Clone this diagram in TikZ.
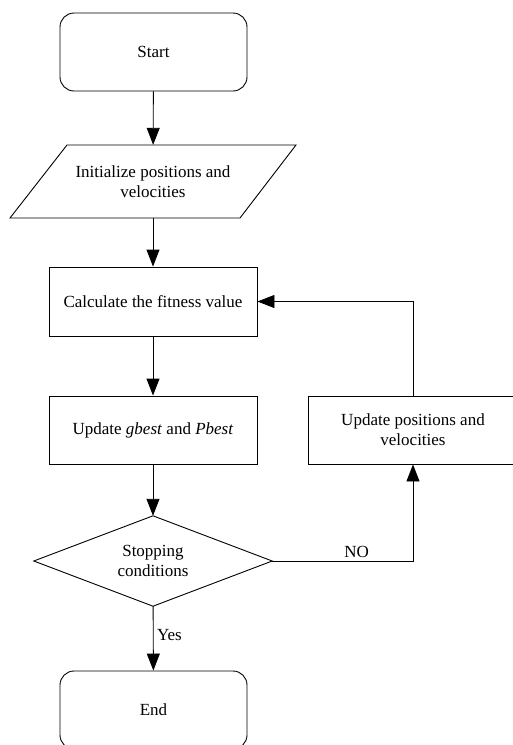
\documentclass[tikz,border=0pt]{standalone}
\usepackage{fontspec}
\setmainfont{Liberation Serif}
\usetikzlibrary{arrows.meta}

\begin{document}
\begin{tikzpicture}[x=1pt,y=1pt,yscale=-1,xscale=1,
  every node/.style={font=\fontsize{17}{20}\selectfont, align=center},
  term/.style={draw, line width=0.9pt, rounded corners=14pt, minimum width=187pt, minimum height=78pt},
  procbox/.style={draw, line width=0.9pt, minimum height=68pt, inner sep=0pt},
  holder/.style={minimum height=#1, inner sep=0pt},
  flow/.style={line width=0.9pt, -{Triangle[length=17pt,width=13pt]}}]
\path[use as bounding box] (0,0) rectangle (513,745);
\clip (0,0) rectangle (513,745);

%Shape: Rounded Rect
\node[term] (start) at (153.5,52) {Start};
%Shape: Parallelogram
\node[holder=73pt, minimum width=230pt] (init) at (153,181.5) {Initialize positions and\\velocities};
\draw[line width=0.9pt] (67,145) -- (296,145) -- (240,218) -- (10,218) -- cycle ;
%Shape: Rectangle
\node[procbox, minimum width=208pt, minimum height=69pt] (calc) at (153,301.5) {Calculate the fitness value};
%Shape: Rectangle
\node[procbox, minimum width=208pt] (upd) at (153,430) {Update \textit{gbest} and \textit{Pbest}};
%Shape: Diamond
\node[holder=90pt, minimum width=238pt] (stop) at (153,561) {Stopping\\conditions};
\draw[line width=0.9pt] (stop.north) -- (stop.east) -- (stop.south) -- (stop.west) -- cycle ;
%Shape: Rectangle
\node[procbox, minimum width=210pt] (pos) at (413,430) {Update positions and\\velocities};
%Shape: Rounded Rect
\node[term] (end) at (153.5,710) {End};

%Straight Lines
\draw[flow] (start) -- (init);
\draw[flow] (init) -- (calc);
\draw[flow] (calc) -- (upd);
\draw[flow] (upd) -- (stop);
\draw[flow] (stop) -- node[right, pos=0.45] {Yes} (end);
\draw[flow] (stop.east) -| node[above, pos=0.3] {NO} (pos.south);
\draw[flow] (pos.north) |- (calc.east);

\end{tikzpicture}
\end{document}
